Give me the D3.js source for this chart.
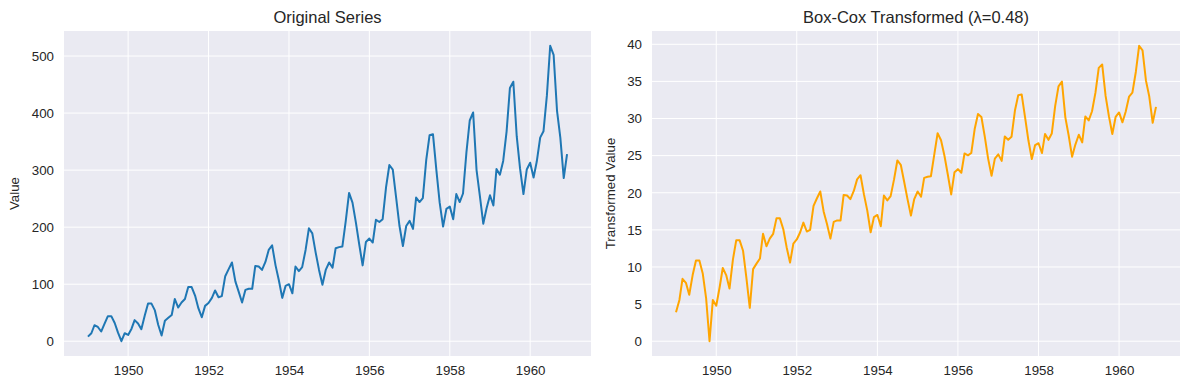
<!DOCTYPE html>
<html><head><meta charset="utf-8">
<script src="https://cdn.jsdelivr.net/npm/d3@7"></script>
<style>body{margin:0;background:#fff}svg{display:block}text{font-family:"Liberation Sans",Arial,sans-serif}</style>
</head><body><svg id="c" width="1189" height="390"></svg>
<script>
const startYear = 1949, endYear = 1960;
const original = [
8,14,28,25,17,31,44,44,32,15,0,14,
11,22,37,31,21,45,66,66,54,29,10,36,
41,46,74,59,68,74,95,95,80,58,42,62,
67,76,89,77,79,114,126,138,105,87,68,90,
92,92,132,131,125,139,160,168,133,107,76,97,
100,84,131,123,130,160,198,189,155,125,99,125,
138,129,163,165,166,211,260,243,208,170,133,174,
180,173,213,209,214,270,309,301,251,202,167,202,
211,197,252,244,251,318,361,363,300,243,201,232,
236,214,258,244,259,331,387,401,300,255,206,233,
256,238,302,292,316,368,444,455,359,303,258,301,
313,287,315,357,368,431,518,502,404,357,286,328];
const transformed = [
3.90,5.56,8.41,7.87,6.26,8.91,10.87,10.87,9.08,5.80,0.00,5.56,
4.78,7.30,9.86,8.91,7.10,11.00,13.59,13.59,12.18,8.58,4.50,9.71,
10.45,11.14,14.47,12.79,13.82,14.47,16.55,16.55,15.09,12.67,10.59,13.14,
13.71,14.68,15.98,14.78,14.99,18.24,19.23,20.17,17.45,15.79,13.82,16.08,
16.27,16.27,19.70,19.63,19.15,20.25,21.80,22.36,19.78,17.63,14.68,16.73,
17.01,15.49,19.63,18.98,19.55,21.80,24.35,23.77,21.44,19.15,16.92,19.15,
20.17,19.47,22.01,22.15,22.22,25.17,28.03,27.07,24.98,22.50,19.78,22.77,
23.18,22.70,25.29,25.04,25.35,28.58,30.62,30.21,27.53,24.60,22.29,24.60,
25.17,24.29,27.58,27.13,27.53,31.07,33.15,33.24,30.16,27.07,24.54,26.43,
26.67,25.35,27.92,27.13,27.97,31.71,34.34,34.97,30.16,27.75,24.86,26.49,
27.81,26.78,30.27,29.75,30.98,33.48,36.82,37.28,33.05,30.32,27.92,30.21,
30.82,29.49,30.92,32.96,33.48,36.27,39.80,39.18,35.10,32.96,29.43,31.57];
const xTicks = [1950,1952,1954,1956,1958,1960];
const yTicksLeft = [0,100,200,300,400,500];
const yTicksRight = [0,5,10,15,20,25,30,35,40];
const titles = ["Original Series","Box-Cox Transformed (\u03bb=0.48)"];
const yLabels = ["Value","Transformed Value"];

const dates = original.map((_, i) => new Date(startYear + Math.floor(i/12), i%12, 1));
const svg = d3.select("#c");
const txt = "#262626";

function panel(left, right, values, color, title, ylab, yticks, ylabX){
  const top = 31, bottom = 356;
  const d0 = +dates[0], d1 = +dates[dates.length-1], m = (d1-d0)*0.05;
  const x = d3.scaleTime().domain([new Date(d0-m), new Date(d1+m)]).range([left,right]);
  const [vmin,vmax] = d3.extent(values), vm = (vmax-vmin)*0.05;
  const y = d3.scaleLinear().domain([vmin-vm, vmax+vm]).range([bottom, top]);
  const g = svg.append("g");
  g.append("rect").attr("x",left).attr("y",top).attr("width",right-left).attr("height",bottom-top).attr("fill","#EAEAF2");
  const xt = xTicks.map(t => new Date(t,0,1));
  g.selectAll(".vg").data(xt).join("line").attr("x1",d=>x(d)).attr("x2",d=>x(d)).attr("y1",top).attr("y2",bottom).attr("stroke","#fff").attr("stroke-width",1);
  g.selectAll(".hg").data(yticks).join("line").attr("x1",left).attr("x2",right).attr("y1",d=>y(d)).attr("y2",d=>y(d)).attr("stroke","#fff").attr("stroke-width",1);
  const xa = g.append("g").attr("transform",`translate(0,${bottom})`).call(d3.axisBottom(x).tickValues(xt).tickFormat(d3.timeFormat("%Y")).tickSize(0).tickPadding(10));
  xa.select(".domain").remove();
  xa.selectAll("text").attr("fill",txt).style("font-size","13.3px");
  const ya = g.append("g").attr("transform",`translate(${left},0)`).call(d3.axisLeft(y).tickValues(yticks).tickSize(0).tickPadding(10));
  ya.select(".domain").remove();
  ya.selectAll("text").attr("fill",txt).style("font-size","13.3px");
  g.append("path").datum(values).attr("fill","none").attr("stroke",color).attr("stroke-width",2).attr("stroke-linejoin","round")
    .attr("d", d3.line().x((d,i)=>x(dates[i])).y(d=>y(d)));
  g.append("text").attr("x",(left+right)/2).attr("y",23).attr("text-anchor","middle").attr("fill",txt).style("font-size","16.5px").text(title);
  g.append("text").attr("transform",`translate(${ylabX},${(top+bottom)/2}) rotate(-90)`).attr("text-anchor","middle").attr("fill",txt).style("font-size","13.3px").text(ylab);
}
panel(64, 591, original, "#1f77b4", titles[0], yLabels[0], yTicksLeft, 19);
panel(652, 1180, transformed, "#FFA500", titles[1], yLabels[1], yTicksRight, 615);
</script></body></html>
